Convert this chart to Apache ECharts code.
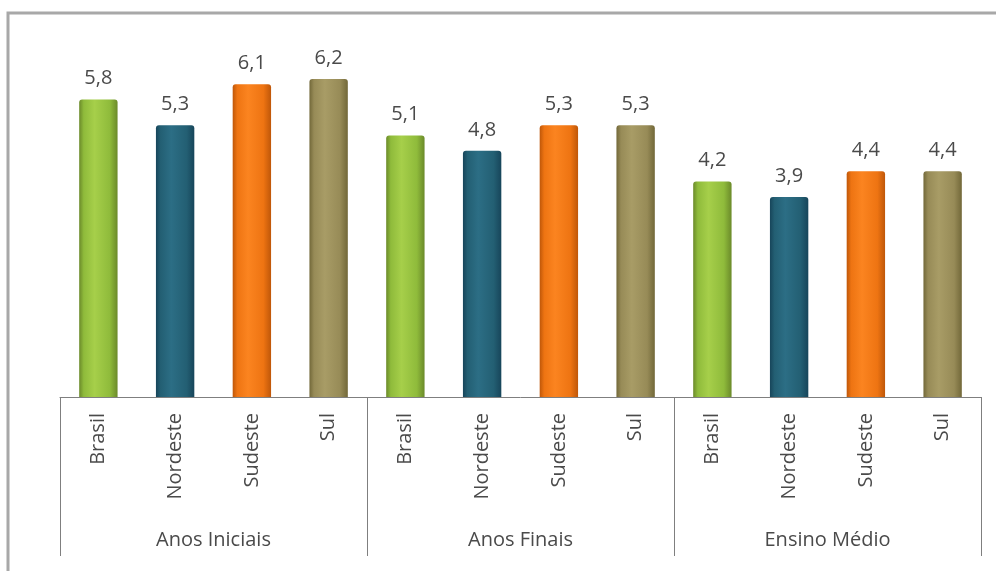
<!DOCTYPE html>
<html><head><meta charset="utf-8">
<script src="https://cdn.jsdelivr.net/npm/echarts@6/dist/echarts.min.js"></script>
<style>html,body{margin:0;padding:0;background:#fff;}#c{width:996px;height:571px;}</style>
</head><body><div id="c"></div>
<script>
const groups = ['Anos Iniciais', 'Anos Finais', 'Ensino Médio'];
const regions = ['Brasil', 'Nordeste', 'Sudeste', 'Sul'];
const anosIniciais = [5.8, 5.3, 6.1, 6.2];
const anosFinais = [5.1, 4.8, 5.3, 5.3];
const ensinoMedio = [4.2, 3.9, 4.4, 4.4];
const valueSets = [anosIniciais, anosFinais, ensinoMedio];

const palettes = [
  ['#6b8a2a', '#8fbb3b', '#a6cf4a'],
  ['#17455a', '#235f73', '#2c6e85'],
  ['#bf5709', '#ee7412', '#fb8420'],
  ['#726839', '#978b57', '#a89c66']
];
function grad(p) {
  return new echarts.graphic.LinearGradient(0, 0, 1, 0, [
    {offset: 0, color: p[0]}, {offset: 0.12, color: p[1]},
    {offset: 0.4, color: p[2]}, {offset: 0.8, color: p[1]}, {offset: 1, color: p[0]}
  ]);
}
const cats = [];
const data = [];
valueSets.forEach((vals, gi) => {
  vals.forEach((v, ri) => {
    cats.push(regions[ri]);
    data.push({value: v, itemStyle: {color: grad(palettes[ri]), borderRadius: [3, 3, 0, 0]}});
  });
});
const font = '"Open Sans", sans-serif';
const chart = echarts.init(document.getElementById('c'));
chart.setOption({
  animation: false,
  graphic: [{type: 'rect', z: -1, shape: {x: 8, y: 13, width: 1000, height: 600},
    style: {fill: 'none', stroke: '#a8a8a8', lineWidth: 3}}],
  grid: {left: 60, right: 15, top: 38, bottom: 174},
  xAxis: [{
    type: 'category', data: cats, position: 'bottom',
    axisLine: {lineStyle: {color: '#7f7f7f', width: 1}},
    axisTick: {show: false},
    axisLabel: {rotate: 90, margin: 16, fontFamily: font, fontSize: 20, color: '#4a4a4a', interval: 0}
  }, {
    type: 'category', data: groups, position: 'bottom',
    axisLine: {show: false},
    axisTick: {show: true, length: 159, lineStyle: {color: '#7f7f7f', width: 1}},
    axisLabel: {margin: 133, fontFamily: font, fontSize: 20, color: '#4a4a4a'}
  }],
  yAxis: {type: 'value', min: 0, max: 7, show: false},
  series: [{
    type: 'bar', xAxisIndex: 0, data: data, barWidth: '50%',
    label: {show: true, position: 'top', distance: 11, fontFamily: font, fontSize: 20, color: '#4a4a4a',
      formatter: p => String(p.value).replace('.', ',')}
  }]
});
</script></body></html>
